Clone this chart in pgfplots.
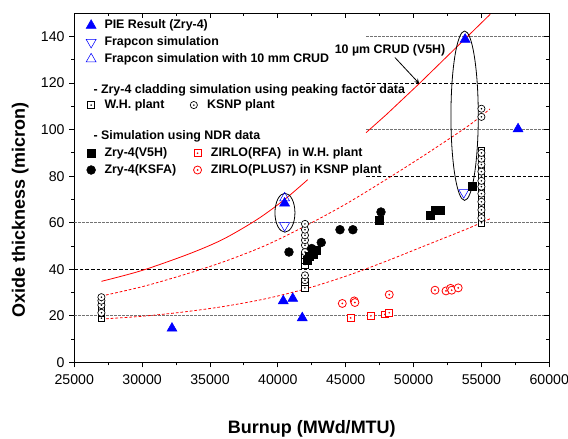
\documentclass[border=0pt]{standalone}
\usepackage{fontspec}
\setmainfont{Liberation Sans}
\usepackage{pgfplots}
\pgfplotsset{compat=1.18}

% open marks with a centre dot
\pgfdeclareplotmark{odot}{%
  \pgfpathcircle{\pgfpointorigin}{\pgfplotmarksize}\pgfusepathqfillstroke
  \pgfpathcircle{\pgfpointorigin}{0.3pt}\pgfusepathqstroke}
\pgfdeclareplotmark{sqdot}{%
  \pgfpathrectangle{\pgfqpoint{-\pgfplotmarksize}{-\pgfplotmarksize}}{\pgfqpoint{2\pgfplotmarksize}{2\pgfplotmarksize}}\pgfusepathqfillstroke
  \pgfpathcircle{\pgfpointorigin}{0.3pt}\pgfusepathqstroke}

\pgfplotsset{
  base/.style={width=356.25pt, height=261.75pt, scale only axis,
    xmin=25000, xmax=60000, ymin=0, ymax=150},
  lgd/.style={draw=none, fill=none, inner sep=0pt, anchor=north west,
    font=\fontsize{9.3}{11}\selectfont\bfseries,
    nodes={inner sep=1.5pt, text height=7.4pt, text depth=2.2pt}},
  % legend symbol centred in a 0.6cm wide cell
  wideimg/.style={legend image code/.code={%
    \path[draw=none, fill=none] (0cm,-2pt) rectangle (0.6cm,2pt);
    \draw[##1] plot coordinates {(0.3cm,0cm)};}},
  gridk/.style={black, line width=0.6pt, dash pattern=on 2.6pt off 1.6pt},
  gridg/.style={black!55, line width=0.9pt, dash pattern=on 2pt off 1pt},
  pie/.style={only marks, mark=triangle*, mark size=4.3pt, blue, mark options={fill=blue}, wideimg},
  frdn/.style={only marks, mark=triangle, mark size=4.3pt, blue, mark options={rotate=180, fill=white}, wideimg},
  frup/.style={only marks, mark=triangle, mark size=4.3pt, blue, mark options={fill=white}, wideimg},
  wh/.style={only marks, mark=sqdot, mark size=2.5pt, black, mark options={fill=white, line width=0.5pt}, wideimg},
  ksnp/.style={only marks, mark=odot, mark size=2.7pt, black, mark options={fill=white, line width=0.5pt}, wideimg},
  vfh/.style={only marks, mark=square*, mark size=3pt, black, wideimg},
  ksfa/.style={only marks, mark=*, mark size=3.3pt, black, wideimg},
  rfa/.style={only marks, mark=sqdot, mark size=2.6pt, red, mark options={fill=white, line width=0.6pt}, wideimg},
  plus/.style={only marks, mark=odot, mark size=3pt, red, mark options={fill=white, line width=0.6pt}, wideimg},
}

\begin{document}
\begin{tikzpicture}
\useasboundingbox (-55.7pt,-56.8pt) rectangle (370.3pt,271.75pt);

\begin{axis}[base,
  xtick={25000,30000,...,60000}, ytick={0,20,...,140},
  minor x tick num=1, minor y tick num=1,
  xtick pos=bottom, ytick pos=left, tick align=outside,
  major tick length=3.75pt, minor tick length=2.2pt,
  scaled x ticks=false,
  xticklabel style={/pgf/number format/1000 sep={}, yshift=-2pt},
  /pgf/number format/assume math mode=true,
  tick label style={font=\fontsize{10.6}{12}\selectfont},
  axis line style={line width=0.8pt},
  every tick/.style={black, line width=0.7pt},
  xlabel={Burnup (MWd/MTU)},
  ylabel={Oxide thickness (micron)},
  label style={font=\fontsize{13.5}{16}\selectfont\bfseries},
  xlabel style={at={(axis description cs:0.5,-0.19)}, anchor=center},
  ylabel style={at={(axis description cs:-0.114,0.436)}, anchor=center},
  legend style={lgd, at={(axis description cs:0.011,0.99)}},
  legend cell align=left,
]
% legend series first
\addplot[pie] coordinates {(32200,14.6) (40400,26.4) (41100,27.4) (41800,19.1)
  (40500,68.4) (53800,138.8) (57700,100.3)};
\addlegendentry{PIE Result (Zry-4)}
\addplot[frdn] coordinates {(40500,58.8) (53700,73)};
\addlegendentry{Frapcon simulation}
\addplot[frup] coordinates {(40500,70.6)};
\addlegendentry{Frapcon simulation with 10 mm CRUD}

% dashed reference lines
\addplot[gridg, forget plot] coordinates {(25000,20) (60000,20)};
\addplot[gridk, forget plot] coordinates {(25000,40) (60000,40)};
\addplot[gridg, forget plot] coordinates {(25000,60) (60000,60)};
\addplot[gridk, forget plot] coordinates {(46500,80) (60000,80)};
\addplot[gridg, forget plot] coordinates {(46500,100) (60000,100)};
\addplot[gridk, forget plot] coordinates {(46500,120) (60000,120)};
\addplot[gridg, forget plot] coordinates {(46500,140) (60000,140)};

% red curves
\addplot[red, line width=0.6pt, smooth, forget plot] coordinates {
  (27000,34.8) (30000,39.5) (33500,46.7) (36000,53) (38500,61.5) (40500,70) (42200,78.5)};
\addplot[red, line width=0.6pt, forget plot] coordinates {
  (46500,98.7) (48000,106.5) (50420,119.8) (53000,134.5) (55650,149.6)};
\addplot[red, line width=0.6pt, dash pattern=on 2pt off 1.5pt, smooth, forget plot] coordinates {
  (27000,28.5) (30000,32.5) (33000,37.5) (36000,43.2) (39000,50) (42000,58.5)
  (45000,68) (48260,79.6) (51000,89.8) (54000,101.5) (55632,108.9)};
\addplot[red, line width=0.6pt, dash pattern=on 2pt off 1.5pt, smooth, forget plot] coordinates {
  (27000,18.6) (30000,19.8) (33000,21.6) (36000,24) (39000,27.2) (42000,31.5)
  (45000,37) (48000,43.5) (51000,50.5) (54000,57.5) (55632,61.7)};

% peaking factor simulation
\addplot[wh, forget plot] coordinates {
  (27000,19) (27000,21) (27000,23) (27000,25)
  (42000,32) (42000,34.5) (42000,42) (42000,44) (42000,46)
  (55000,60) (55000,63) (55000,67) (55000,70) (55000,74) (55000,77)
  (55000,80) (55000,84) (55000,88) (55000,91)};
\addplot[ksnp, forget plot] coordinates {
  (27000,21.3) (27000,24.6) (27000,26.5) (27000,28)
  (42000,35.3) (42000,37.4) (42000,47.4) (42000,50.3) (42000,52.5)
  (42000,54.6) (42000,57) (42000,59.5)
  (55000,62) (55000,65.5) (55000,69) (55000,72.5) (55000,75.5) (55000,78)
  (55000,82) (55000,85) (55000,87.5) (55000,90) (55000,105.5) (55000,109)};

% NDR data
\addplot[vfh, forget plot] coordinates {
  (42150,43.9) (42350,45.5) (42600,46.5) (42800,48)
  (47500,61) (51200,63) (51600,65.3) (51950,65.3) (54350,75.7)};
\addplot[ksfa, forget plot] coordinates {
  (40820,47.4) (42500,48.9) (42650,47.5) (43200,51.5) (44580,57) (45530,57) (47600,64.6)};
\addplot[rfa, forget plot] coordinates {
  (45365,19.1) (46860,20) (47890,20.6) (48210,21.3)};
\addplot[plus, forget plot] coordinates {
  (44750,25.3) (45630,26.4) (45680,25.7) (48210,29.1) (51580,31)
  (52390,30.7) (52730,31.8) (52810,31) (53290,32)};

% annotations
\draw[line width=0.6pt] (axis cs:40524,64.3) ellipse [x radius=737, y radius=8.35];
\draw[line width=0.6pt] (axis cs:53762,106) ellipse [x radius=1007, y radius=36.4];
\node[font=\fontsize{9.3}{11}\selectfont\bfseries] at (axis cs:48272,134.2) {10 µm CRUD (V5H)};
\draw[-stealth, line width=0.6pt] (axis cs:48630,131) -- (axis cs:50420,119.8);
\node[anchor=west, inner sep=0pt, font=\fontsize{9.3}{11}\selectfont\bfseries]
  at (axis cs:26400,117) {- Zry-4 cladding simulation using peaking factor data};
\node[anchor=west, inner sep=0pt, font=\fontsize{9.3}{11}\selectfont\bfseries]
  at (axis cs:26400,97) {- Simulation using NDR data};
\end{axis}

% inward ticks on top and right
\begin{axis}[base,
  xtick={25000,30000,...,60000}, ytick={0,20,...,140},
  minor x tick num=1, minor y tick num=1,
  xtick pos=top, ytick pos=right, tick align=inside,
  xticklabel pos=bottom, yticklabel pos=left,
  scaled x ticks=false, scaled y ticks=false,
  major tick length=3.75pt, minor tick length=2.2pt,
  xticklabels={}, yticklabels={},
  axis line style={draw=none},
  every tick/.style={black, line width=0.7pt},
]
\end{axis}

% legend: peaking factor block
\begin{axis}[base, hide axis,
  legend style={lgd, at={(axis description cs:0.011,0.762)},
    /tikz/every even column/.append style={column sep=12pt}},
  legend columns=2, legend cell align=left,
]
\addlegendimage{wh}
\addlegendentry{W.H. plant}
\addlegendimage{ksnp}
\addlegendentry{KSNP plant}
\end{axis}

% legend: NDR block
\begin{axis}[base, hide axis,
  legend style={lgd, at={(axis description cs:0.011,0.624)},
    /tikz/every even column/.append style={column sep=6pt}},
  legend columns=2, legend cell align=left,
]
\addlegendimage{vfh}
\addlegendentry{Zry-4(V5H)}
\addlegendimage{rfa}
\addlegendentry{ZIRLO(RFA)\ \ in W.H. plant}
\addlegendimage{ksfa}
\addlegendentry{Zry-4(KSFA)}
\addlegendimage{plus}
\addlegendentry{ZIRLO(PLUS7) in KSNP plant}
\end{axis}
\end{tikzpicture}
\end{document}
